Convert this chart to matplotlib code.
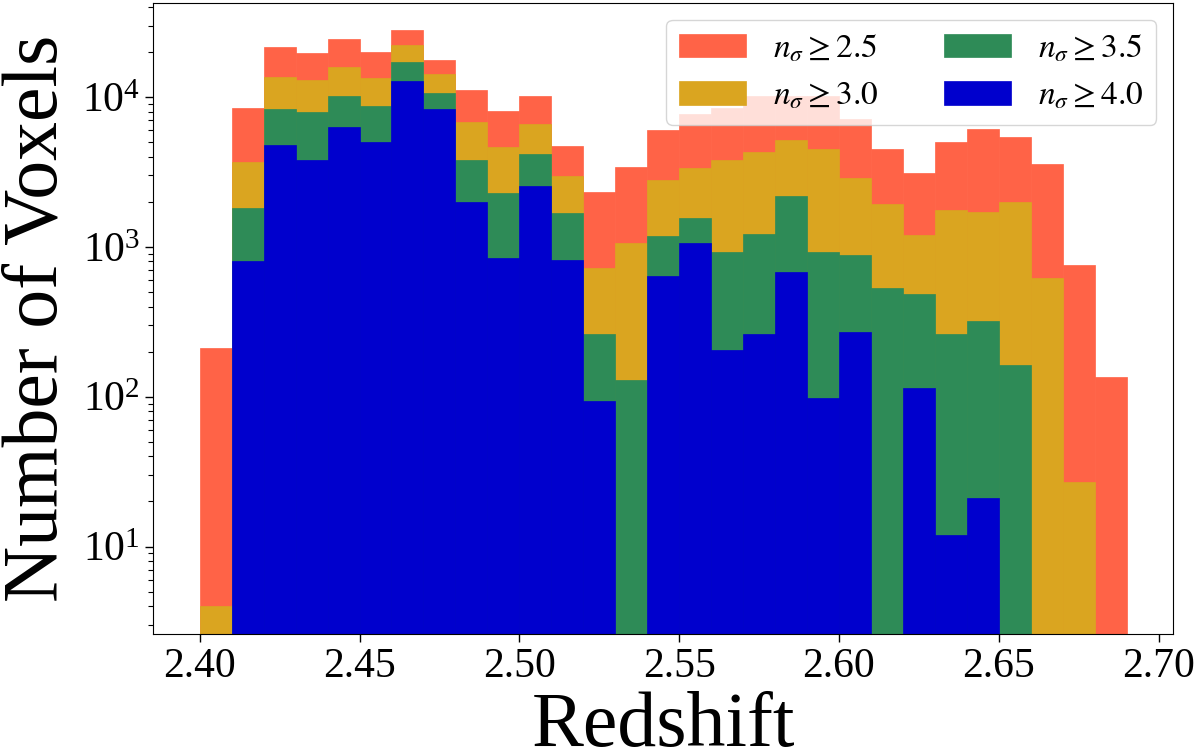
import numpy as np
import matplotlib
matplotlib.use("Agg")
import matplotlib.pyplot as plt

plt.rcParams['font.family'] = ['Liberation Serif', 'DejaVu Serif']
plt.rcParams['mathtext.fontset'] = 'stix'

# histogram bins (redshift), width 0.01
z_edges = np.linspace(2.40, 2.69, 30)

# voxel counts per bin for each significance threshold
n_25 = [213, 8500, 21700, 19600, 24500, 19950, 27900, 17650, 11200, 8110,
        10100, 4740, 2340, 3440, 5990, 7740, 8500, 10100, 10100, 10100,
        7180, 4530, 3110, 5010, 6150, 5410, 3600, 755, 136]
n_30 = [4, 3700, 13700, 13100, 16000, 13400, 22200, 14200, 6780, 4670,
        6610, 2960, 722, 1070, 2810, 3350, 3800, 4330, 5140, 4530,
        2870, 1930, 1197, 1770, 1700, 1980, 625, 27, 0]
n_35 = [0, 1830, 8320, 7910, 10100, 8770, 17200, 10600, 3790, 2290,
        4200, 1690, 262, 129, 1190, 1570, 927, 1220, 2180, 927,
        881, 531, 482, 264, 320, 162, 0, 0, 0]
n_40 = [0, 800, 4790, 3830, 6310, 5050, 12800, 8320, 1990, 841,
        2550, 818, 94, 0, 638, 1055, 205, 263, 680, 98,
        269, 0, 114, 12, 21, 0, 0, 0, 0]

series = [(n_25, 'tomato', r'$n_\sigma \geq 2.5$'),
          (n_30, 'goldenrod', r'$n_\sigma \geq 3.0$'),
          (n_35, 'seagreen', r'$n_\sigma \geq 3.5$'),
          (n_40, 'mediumblue', r'$n_\sigma \geq 4.0$')]

fig = plt.figure(figsize=(12, 7.47), dpi=100)
ax = fig.add_axes([0.1278, 0.151, 0.8497, 0.845])

left = z_edges[:-1]
for counts, col, lab in series:
    counts = np.array(counts, dtype=float)
    m = counts > 0
    ax.bar(left[m], counts[m], width=0.01, align='edge', color=col,
           edgecolor=col, linewidth=0.5, label=lab)

ax.set_yscale('log')
ax.set_xlim(2.3855, 2.7045)
ax.set_ylim(2.6, 42500)
ax.set_xticks([2.40, 2.45, 2.50, 2.55, 2.60, 2.65, 2.70])
ax.set_xticklabels(['2.40', '2.45', '2.50', '2.55', '2.60', '2.65', '2.70'])

ax.set_xlabel('Redshift', fontsize=56, labelpad=4)
ax.set_ylabel('Number of Voxels', fontsize=56, labelpad=6)
ax.tick_params(axis='both', which='major', labelsize=30, length=6, width=1)
ax.tick_params(axis='y', which='minor', length=3.5, width=0.8)

# handles in the same order as the reference (column-wise)
ax.legend(loc='upper right', ncol=2, fontsize=24)

fig.savefig('out.png', dpi=100)
